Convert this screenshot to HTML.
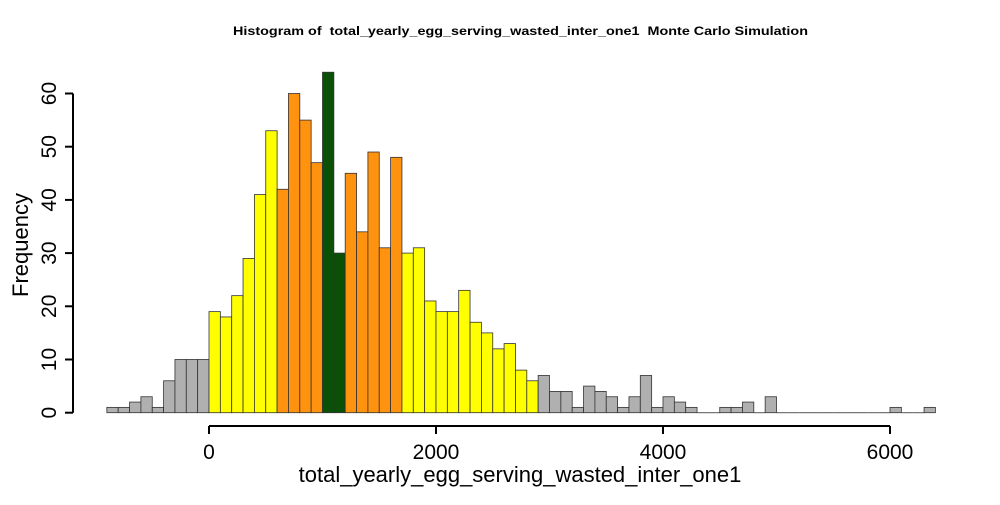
<!DOCTYPE html>
<html><head><meta charset="utf-8"><style>
body{margin:0;background:#fff}
svg text{font-family:"Liberation Sans",Arial,sans-serif}
</style></head><body>
<svg id="c" width="1000" height="500" xmlns="http://www.w3.org/2000/svg">
<text x="233" y="35" font-size="12" font-weight="bold" textLength="575" lengthAdjust="spacingAndGlyphs" style="white-space:pre">Histogram of  total_yearly_egg_serving_wasted_inter_one1  Monte Carlo Simulation</text>
<g id="bars"></g>
<g id="axes"></g>
<text x="520" y="482" text-anchor="middle" font-size="22">total_yearly_egg_serving_wasted_inter_one1</text>
<text transform="translate(28,245) rotate(-90)" text-anchor="middle" font-size="22">Frequency</text>
</svg>
<script>
const binStart = -900;
const binWidth = 100;
const counts = [1,1,2,3,1,6,10,10,10,
 19,18,22,29,41,53,
 42,60,55,47,
 64,30,
 45,34,49,31,48,
 30,31,21,19,19,23,17,15,12,13,8,6,
 7,4,4,1,5,4,3,1,3,7,1,3,2,1,0,0,1,1,2,0,3,
 0,0,0,0,0,0,0,0,0,0,1,0,0,1];
const xTicks = [0,2000,4000,6000];
const yTicks = [0,10,20,30,40,50,60];
const NS="http://www.w3.org/2000/svg";
const xs=v=>209+v*0.1135;
const ys=v=>412.7-v*5.32;
function color(v){
  if(v<0||v>=2900) return "#b0b0b0";
  if(v>=1000&&v<1200) return "#0b5007";
  if(v>=600&&v<1700) return "#ff920e";
  return "#ffff00";
}
const bars=document.getElementById('bars');
counts.forEach((c,i)=>{
  const v=binStart+i*binWidth;
  if(c===0){
    const l=document.createElementNS(NS,'line');
    l.setAttribute('x1',xs(v));l.setAttribute('x2',xs(v+binWidth));
    l.setAttribute('y1',ys(0));l.setAttribute('y2',ys(0));
    l.setAttribute('stroke','#555');l.setAttribute('stroke-width','1');
    
    
    bars.appendChild(l);
    return;
  }
  const r=document.createElementNS(NS,'rect');
  r.setAttribute('x',xs(v));r.setAttribute('width',xs(v+binWidth)-xs(v));
  r.setAttribute('y',ys(c));r.setAttribute('height',ys(0)-ys(c));
  r.setAttribute('fill',color(v));r.setAttribute('stroke','#333');r.setAttribute('stroke-width','0.8');
  
  
  bars.appendChild(r);
});
const ax=document.getElementById('axes');
function line(x1,y1,x2,y2,name){
  const l=document.createElementNS(NS,'line');
  l.setAttribute('x1',x1);l.setAttribute('y1',y1);l.setAttribute('x2',x2);l.setAttribute('y2',y2);
  l.setAttribute('stroke','#000');l.setAttribute('stroke-width','2');
  
  
  ax.appendChild(l);
}
function text(x,y,s,tr,name){
  const t=document.createElementNS(NS,'text');
  t.setAttribute('x',x);t.setAttribute('y',y);t.setAttribute('font-size','21');t.setAttribute('text-anchor','middle');
  if(tr) t.setAttribute('transform',tr);
  t.textContent=s;
  
  
  ax.appendChild(t);
}
line(xs(xTicks[0]),426,xs(xTicks[xTicks.length-1]),426,'x-axis-line');
xTicks.forEach(v=>{line(xs(v),426,xs(v),434,'x-tick');text(xs(v),459,String(v),null,'x-tick-label');});
line(73,ys(yTicks[0]),73,ys(yTicks[yTicks.length-1]),'y-axis-line');
yTicks.forEach(v=>{line(65,ys(v),73,ys(v),'y-tick');text(56,ys(v),String(v),`rotate(-90,56,${ys(v)})`,'y-tick-label');});
</script>
</body></html>
